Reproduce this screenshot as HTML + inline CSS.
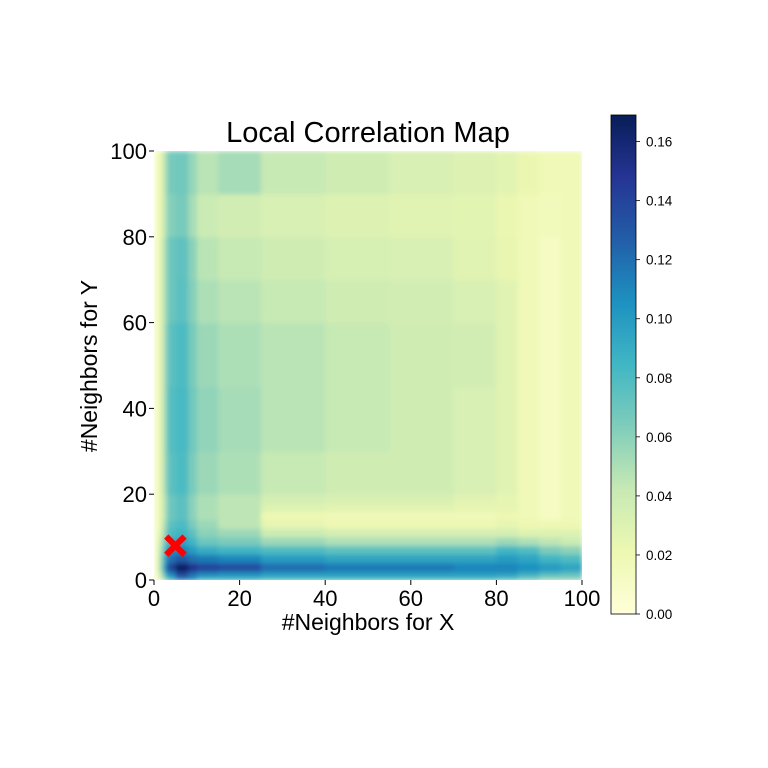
<!DOCTYPE html>
<html><head><meta charset="utf-8"><style>
html,body{margin:0;padding:0;background:#fff;}
svg{display:block;font-family:"Liberation Sans","DejaVu Sans",sans-serif;}
</style></head><body>
<svg id="chart" width="768" height="768" viewBox="0 0 768 768">
<defs>
<clipPath id="plotclip"><rect x="154" y="151" width="428" height="429"/></clipPath>
<filter id="soft" x="0" y="0" width="1" height="1"><feGaussianBlur stdDeviation="2.4"/></filter>
<linearGradient id="cbgrad" x1="0" y1="1" x2="0" y2="0">
<stop offset="0" stop-color="#ffffd9"/><stop offset="0.125" stop-color="#edf8b1"/>
<stop offset="0.25" stop-color="#c7e9b4"/><stop offset="0.375" stop-color="#7fcdbb"/>
<stop offset="0.5" stop-color="#41b6c4"/><stop offset="0.625" stop-color="#1d91c0"/>
<stop offset="0.75" stop-color="#225ea8"/><stop offset="0.875" stop-color="#253494"/>
<stop offset="1" stop-color="#081d58"/>
</linearGradient>
</defs>
<text x="368" y="142" text-anchor="middle" font-size="29" fill="#000">Local Correlation Map</text>
<g id="heat" clip-path="url(#plotclip)"><g id="cells" filter="url(#soft)"></g></g>
<g id="axes"></g>
<g id="marker"></g>
<rect x="611" y="115" width="25" height="499" fill="url(#cbgrad)" stroke="#000" stroke-width="0.8"/>
<g id="cbticks"></g>
<text x="368" y="630" text-anchor="middle" font-size="23">#Neighbors for X</text>
<text transform="translate(97,366) rotate(-90)" text-anchor="middle" font-size="23">#Neighbors for Y</text>
</svg>
<script>
const xEdges=[0,1,2,3,5,8,10,15,25,40,55,70,80,85,90,95,100];
const yEdges=[0,1,2,4,6,8,10,12,14,16,18,20,30,45,60,70,80,90,100];
const values=[
[0.01,0.03,0.06,0.09,0.12,0.11,0.09,0.09,0.085,0.085,0.085,0.085,0.08,0.07,0.06,0.06],
[0.01,0.04,0.08,0.11,0.14,0.12,0.11,0.105,0.10,0.10,0.10,0.10,0.10,0.09,0.08,0.075],
[0.01,0.05,0.10,0.14,0.165,0.15,0.14,0.135,0.12,0.115,0.115,0.11,0.11,0.105,0.10,0.095],
[0.01,0.05,0.09,0.12,0.13,0.12,0.115,0.11,0.10,0.095,0.095,0.095,0.10,0.095,0.085,0.08],
[0.01,0.045,0.08,0.105,0.11,0.10,0.09,0.085,0.08,0.075,0.075,0.075,0.085,0.08,0.065,0.06],
[0.01,0.04,0.065,0.09,0.095,0.085,0.07,0.065,0.055,0.05,0.05,0.05,0.055,0.05,0.045,0.04],
[0.01,0.03,0.055,0.08,0.085,0.075,0.06,0.055,0.04,0.035,0.035,0.035,0.035,0.03,0.03,0.03],
[0.01,0.025,0.05,0.075,0.08,0.065,0.055,0.045,0.025,0.02,0.02,0.02,0.025,0.02,0.02,0.02],
[0.01,0.025,0.045,0.07,0.075,0.06,0.05,0.045,0.02,0.018,0.018,0.018,0.02,0.018,0.012,0.018],
[0.01,0.025,0.045,0.07,0.075,0.06,0.05,0.045,0.03,0.028,0.028,0.025,0.025,0.018,0.012,0.018],
[0.01,0.025,0.045,0.07,0.075,0.06,0.05,0.045,0.035,0.033,0.033,0.028,0.025,0.018,0.012,0.018],
[0.01,0.025,0.05,0.075,0.08,0.065,0.055,0.05,0.042,0.038,0.038,0.033,0.028,0.018,0.012,0.018],
[0.01,0.025,0.05,0.078,0.082,0.068,0.058,0.052,0.046,0.042,0.038,0.033,0.028,0.018,0.012,0.018],
[0.01,0.025,0.05,0.075,0.08,0.066,0.055,0.05,0.046,0.042,0.038,0.036,0.028,0.018,0.012,0.018],
[0.01,0.025,0.048,0.07,0.075,0.062,0.05,0.046,0.042,0.038,0.036,0.033,0.028,0.018,0.012,0.018],
[0.01,0.025,0.048,0.07,0.074,0.06,0.046,0.042,0.038,0.034,0.033,0.028,0.024,0.018,0.012,0.018],
[0.01,0.022,0.044,0.062,0.066,0.052,0.04,0.036,0.033,0.03,0.028,0.027,0.023,0.018,0.016,0.018],
[0.01,0.022,0.045,0.066,0.068,0.057,0.046,0.052,0.042,0.038,0.033,0.03,0.027,0.022,0.018,0.018]
];
const axisTicks=[0,20,40,60,80,100];
const cbTicks=[0,0.02,0.04,0.06,0.08,0.10,0.12,0.14,0.16];
const bestPoint=[5,8];
const vmax=0.169;

const NS="http://www.w3.org/2000/svg";
const X0=154,X1=582,Y0=580,Y1=151;
const sx=v=>X0+v/100*(X1-X0);
const sy=v=>Y0-v/100*(Y0-Y1);
const cbY=v=>614-v/vmax*499;
const stops=["#ffffd9","#edf8b1","#c7e9b4","#7fcdbb","#41b6c4","#1d91c0","#225ea8","#253494","#081d58"];
function hex(h){return [1,3,5].map(i=>parseInt(h.substr(i,2),16));}
function cmap(v){let t=Math.max(0,Math.min(1,v/vmax))*(stops.length-1);let i=Math.min(Math.floor(t),stops.length-2);let f=t-i;let a=hex(stops[i]),b=hex(stops[i+1]);return "rgb("+a.map((c,k)=>Math.round(c+(b[k]-c)*f)).join(",")+")";}
function mk(tag,attrs,parent){const e=document.createElementNS(NS,tag);for(const k in attrs)e.setAttribute(k,attrs[k]);parent.appendChild(e);return e;}

const cells=document.getElementById("cells");
for(let r=0;r<values.length;r++){for(let c=0;c<values[r].length;c++){
 const x=sx(xEdges[c]),x2=sx(xEdges[c+1]),y=sy(yEdges[r+1]),y2=sy(yEdges[r]);
 const e=mk("rect",{x:x,y:y,width:x2-x+0.5,height:y2-y+0.5,fill:cmap(values[r][c])},cells);
 
 
}}

const axes=document.getElementById("axes");
axisTicks.forEach(t=>{
 mk("line",{x1:sx(t),x2:sx(t),y1:580,y2:585,stroke:"#000","stroke-width":1},axes);
 const tx=mk("text",{x:sx(t),y:606,"text-anchor":"middle","font-size":22},axes);tx.textContent=t;
 
 
 mk("line",{x1:149,x2:154,y1:sy(t),y2:sy(t),stroke:"#000","stroke-width":1},axes);
 const ty=mk("text",{x:147,y:sy(t)+8,"text-anchor":"end","font-size":22},axes);ty.textContent=t;
 
 
});

const cbt=document.getElementById("cbticks");
cbTicks.forEach(t=>{
 mk("line",{x1:636,x2:640,y1:cbY(t),y2:cbY(t),stroke:"#000","stroke-width":0.8},cbt);
 const l=mk("text",{x:646,y:cbY(t)+5,"font-size":13.5},cbt);l.textContent=t.toFixed(2);
 
 
});

const m=document.getElementById("marker");
const mx=sx(bestPoint[0]),my=sy(bestPoint[1]);
mk("line",{x1:mx-7,y1:my-7,x2:mx+7,y2:my+7,stroke:"#ff0000","stroke-width":6,"stroke-linecap":"square"},m);
mk("line",{x1:mx-7,y1:my+7,x2:mx+7,y2:my-7,stroke:"#ff0000","stroke-width":6,"stroke-linecap":"square"},m);
</script>
</body></html>
